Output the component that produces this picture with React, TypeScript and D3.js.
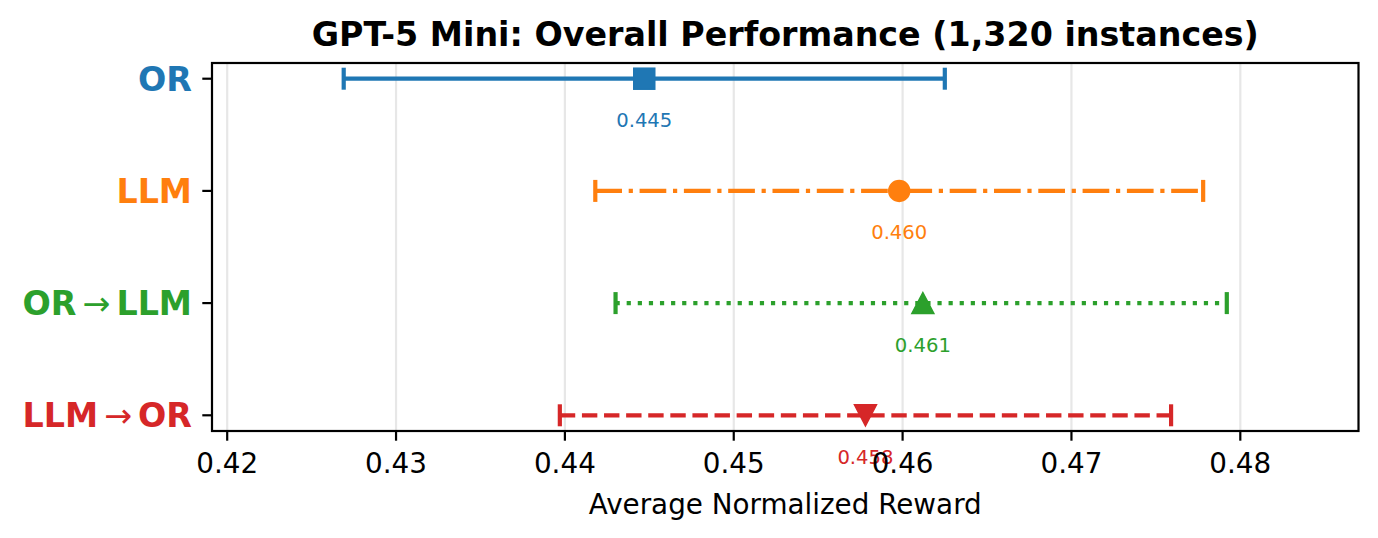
import * as d3 from "d3";

// methods, top to bottom
const METHODS = ["OR", "LLM", "OR→LLM", "LLM→OR"];
// mean normalized reward and 95% CI bounds
const MEANS = [0.4447, 0.4598, 0.4612, 0.4578];
const LOWER = [0.4269, 0.4418, 0.443, 0.4397];
const UPPER = [0.4625, 0.4778, 0.4792, 0.4759];
const VALUE_LABELS = ["0.445", "0.460", "0.461", "0.458"];
const X_TICKS = [0.42, 0.43, 0.44, 0.45, 0.46, 0.47, 0.48];

const COLORS = ["#1f77b4", "#ff7f0e", "#2ca02c", "#d62728"];
const DASHES = ["none", "26.7 6.7 4.2 6.7", "4.2 6.9", "15.4 6.7"];
const MARKERS = ["square", "circle", "triangleUp", "triangleDown"];

const WIDTH = 1378;
const HEIGHT = 538;
const M = { left: 212, right: 1358.5, top: 63, bottom: 431 };
const FONT = "DejaVu Sans, sans-serif";

const Marker = ({ kind, x, y, color }: { kind: string; x: number; y: number; color: string }) => {
  if (kind === "square")
    return <rect x={x - 10.5} y={y - 10.5} width={21} height={21} fill={color} stroke={color} strokeWidth={1.5} />;
  if (kind === "circle") return <circle cx={x} cy={y} r={10.5} fill={color} stroke={color} strokeWidth={1.5} />;
  const s = kind === "triangleUp" ? 1 : -1;
  const pts = [
    [x, y - 10.5 * s],
    [x - 11, y + 10.5 * s],
    [x + 11, y + 10.5 * s],
  ];
  return <polygon points={pts.map((p) => p.join(",")).join(" ")} fill={color} stroke={color} strokeWidth={1.5} />;
};

const YLabel = ({ name, y, color }: { name: string; y: number; color: string }) => {
  const parts = name.split("→");
  return (
    <text x={192} y={y} dy="0.36em" textAnchor="end" fontSize={33.3} fontWeight="bold" fill={color}>
      {parts[0]}
      {parts.length > 1 && (
        <>
          <tspan dx={6} fontWeight="normal">→</tspan>
          <tspan dx={6}>{parts[1]}</tspan>
        </>
      )}
    </text>
  );
};

const App = () => {
  const x = d3.scaleLinear().domain([0.4191, 0.487]).range([M.left, M.right]);
  const y = d3.scaleLinear().domain([-0.14, 3.14]).range([M.top, M.bottom]);
  const fmt = d3.format(".2f");

  return (
    <svg
      width={WIDTH}
      height={HEIGHT}
      style={{ position: "absolute", left: 0, top: 0, background: "#fff" }}
      fontFamily={FONT}
    >
      {/* grid */}
      {X_TICKS.map((t) => (
        <line key={t} x1={x(t)} x2={x(t)} y1={M.top} y2={M.bottom} stroke="#e7e7e7" strokeWidth={2.2} />
      ))}

      {/* error bars, markers, value labels */}
      {METHODS.map((m, i) => {
        const cy = y(i);
        const c = COLORS[i];
        return (
          <g key={m}>
            <line
              x1={x(LOWER[i])}
              x2={x(UPPER[i])}
              y1={cy}
              y2={cy}
              stroke={c}
              strokeWidth={4.2}
              strokeDasharray={DASHES[i]}
            />
            {[LOWER[i], UPPER[i]].map((v) => (
              <line key={v} x1={x(v)} x2={x(v)} y1={cy - 11} y2={cy + 11} stroke={c} strokeWidth={4.2} />
            ))}
            <Marker kind={MARKERS[i]} x={x(MEANS[i])} y={cy} color={c} />
            <text x={x(MEANS[i])} y={cy + 48.5} textAnchor="middle" fontSize={19.6} fill={c}>
              {VALUE_LABELS[i]}
            </text>
          </g>
        );
      })}

      {/* frame */}
      <rect
        x={M.left}
        y={M.top}
        width={M.right - M.left}
        height={M.bottom - M.top}
        fill="none"
        stroke="#000"
        strokeWidth={2.2}
      />

      {/* x axis */}
      {X_TICKS.map((t) => (
        <g key={t}>
          <line x1={x(t)} x2={x(t)} y1={M.bottom} y2={M.bottom + 9.7} stroke="#000" strokeWidth={2.2} />
          <text x={x(t)} y={473} textAnchor="middle" fontSize={27.8} fill="#000">
            {fmt(t)}
          </text>
        </g>
      ))}
      <text x={(M.left + M.right) / 2} y={514} textAnchor="middle" fontSize={27.8} fill="#000">
        Average Normalized Reward
      </text>

      {/* y axis */}
      {METHODS.map((m, i) => (
        <g key={m}>
          <line x1={M.left - 9.7} x2={M.left} y1={y(i)} y2={y(i)} stroke="#000" strokeWidth={2.2} />
          <YLabel name={m} y={y(i)} color={COLORS[i]} />
        </g>
      ))}

      {/* title */}
      <text x={(M.left + M.right) / 2} y={46} textAnchor="middle" fontSize={33.3} fontWeight="bold" fill="#000">
        GPT-5 Mini: Overall Performance (1,320 instances)
      </text>
    </svg>
  );
};

export default App;
